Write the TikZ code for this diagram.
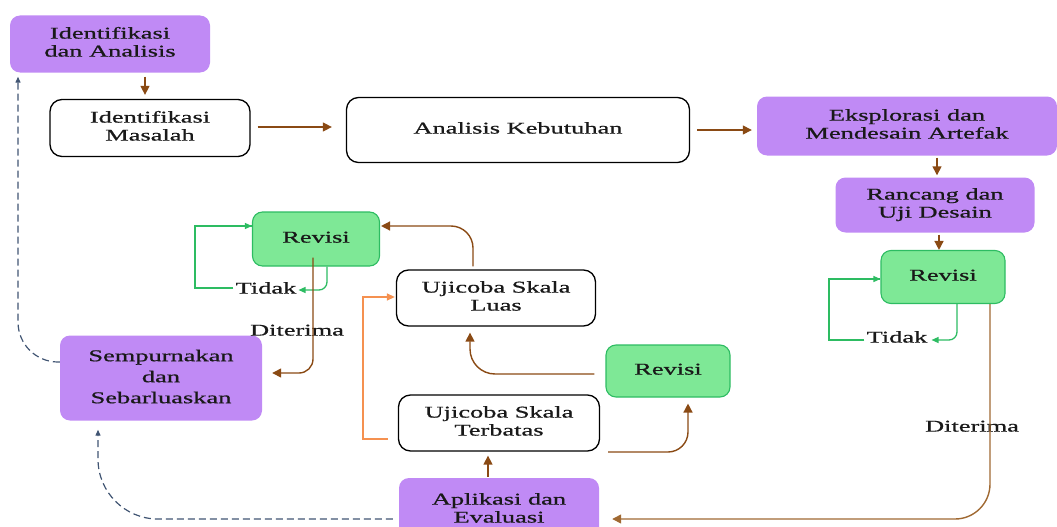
\documentclass[tikz,border=0pt]{standalone}
\usepackage{fontspec}
\setmainfont{Liberation Serif}
\newfontfamily\txf{Liberation Serif}[FakeBold=0.6]
\usetikzlibrary{arrows.meta,calc}
\definecolor{purp}{RGB}{192,138,245}
\definecolor{grn}{RGB}{126,232,150}
\definecolor{grnd}{RGB}{45,188,98}
\definecolor{brn}{RGB}{138,74,20}
\definecolor{brnl}{RGB}{160,105,50}
\definecolor{org}{RGB}{245,145,80}
\definecolor{navy}{RGB}{65,85,115}
\definecolor{txt}{RGB}{25,25,25}
\newcommand\tx[2][18]{\scalebox{1.6}[1]{\txf\fontsize{16.5}{#1}\selectfont\begin{tabular}{@{}c@{}}#2\end{tabular}}}
\begin{document}
\begin{tikzpicture}[x=1pt,y=-1pt,
  every node/.style={inner sep=0pt, text=txt},
  pbox/.style={fill=purp, rounded corners=10pt},
  wbox/.style={draw=black, line width=1.3pt, fill=white, rounded corners=12pt},
  gbox/.style={draw=grnd, line width=1.1pt, fill=grn, rounded corners=10pt},
  barr/.style={draw=brn, line width=1.4pt, -{Triangle[length=9pt,width=9pt]}},
  garr/.style={draw=grnd, line width=1.3pt, -{Triangle[length=7pt,width=6pt]}},
  gline/.style={draw=grnd, line width=1.3pt},
  oarr/.style={draw=org, line width=1.3pt, -{Triangle[length=8pt,width=7pt]}},
  narr/.style={draw=navy, line width=1.2pt, dash pattern=on 7pt off 4pt, -{Triangle[length=6pt,width=5pt]}},
  lbl/.style={fill=none}]
\useasboundingbox (0,0) rectangle (1057,527);
\clip (0,0) rectangle (1057,527);

\node[pbox, minimum width=200, minimum height=57] (n1) at (110,44) {\tx{Identifikasi\\dan Analisis}};
\node[wbox, minimum width=200, minimum height=57] (n2) at (150,128) {\tx{Identifikasi\\Masalah}};
\node[wbox, minimum width=343, minimum height=65] (n3) at (518,130) {\tx{Analisis Kebutuhan}};
\node[pbox, minimum width=300, minimum height=59] (n4) at (907,126) {\tx{Eksplorasi dan\\Mendesain Artefak}};
\node[pbox, minimum width=199, minimum height=55] (n5) at (935,205) {\tx{Rancang dan\\Uji Desain}};
\node[gbox, minimum width=124, minimum height=53] (n6) at (943,277) {\tx{Revisi}};
\node[gbox, minimum width=127, minimum height=54] (n7) at (316,239) {\tx{Revisi}};
\node[wbox, minimum width=199, minimum height=56] (n8) at (496,298) {\tx{Ujicoba Skala\\Luas}};
\node[gbox, minimum width=124, minimum height=52] (n9) at (668,371) {\tx{Revisi}};
\node[wbox, minimum width=201, minimum height=56] (n10) at (499,423) {\tx{Ujicoba Skala\\Terbatas}};
\node[pbox, minimum width=202, minimum height=85] (n11) at (161,378) {\tx[21]{Sempurnakan\\dan\\Sebarluaskan}};
\node[pbox, minimum width=200, minimum height=64] (n12) at (499,510) {\tx{Aplikasi dan\\Evaluasi}};

\node[lbl] (t1) at (266,290) {\tx{Tidak}};
\node[lbl] (t2) at (897,339) {\tx{Tidak}};
\node[lbl] (d1) at (297,332) {\tx{Diterima}};
\node[lbl] (d2) at (972,428) {\tx{Diterima}};

% main flow
\draw[barr] ($(n1.south)+(35,4)$) -- ($(n2.north)+(-5,-4)$);
\draw[barr] ($(n2.east)+(7,-1)$) -- ($(n3.west)+(-14,-3)$);
\draw[barr] ($(n3.east)+(7,0)$) -- ($(n4.west)+(-5,4)$);
\draw[barr] ($(n4.south)+(30,2)$) -- ($(n5.north)+(2,-2)$);
\draw[barr] ($(n5.south)+(4,2)$) -- ($(n6.north)+(-4,0)$);

% right revisi loop
\draw[garr, rounded corners=8pt] ($(n6.south)+(14,0)$) -- (957,340) -- ($(t2.east)+(4,1)$);
\draw[gline] ($(t2.west)+(-2,1)$) -- (829,340) -- (829,279) -- ($(n6.west)+(0,2)$);
\draw[garr] (870,279) -- ($(n6.west)+(0,2)$);

% right diterima
\draw[barr, draw=brnl, rounded corners=35pt] ($(n6.south)+(47,0)$) -- (990,519) -- ($(n12.east)+(13,9)$);

% lower flow
\draw[barr] ($(n12.north)+(-11,-1)$) -- ($(n10.south)+(-11,4)$);
\draw[barr, rounded corners=20pt] ($(n10.east)+(8,29)$) -- (688,452) -- ($(n9.south)+(20,6)$);
\draw[barr, rounded corners=25pt] ($(n9.west)+(-11,3)$) -- (470,374) -- ($(n8.south)+(-26,6)$);
\draw[oarr] ($(n10.west)+(-10,16)$) -- (363,439) -- (363,297) -- ($(n8.west)+(-1,-1)$);
\draw[barr, rounded corners=22pt] ($(n8.north)+(-23,-3)$) -- (473,226) -- ($(n7.east)+(1,-13)$);

% left revisi loop
\draw[garr, rounded corners=8pt] ($(n7.south)+(11,0)$) -- (327,290) -- ($(t1.east)+(2,0)$);
\draw[gline] ($(t1.west)+(-2,-2)$) -- (195,288) -- (195,226) -- ($(n7.west)+(0,-13)$);
\draw[garr] (240,226) -- ($(n7.west)+(0,-13)$);

% left diterima
\draw[barr, rounded corners=14pt] ($(n7.south)+(-3,-9)$) -- (313,373) -- ($(n11.east)+(10,-5)$);

% dashed returns
\draw[narr, rounded corners=40pt] ($(n11.west)+(0,-16)$) -- (18,362) -- ($(n1.south)+(-92,4)$);
\draw[narr, rounded corners=60pt] ($(n12.west)+(-6,9)$) -- (98,519) -- ($(n11.south)+(-63,9)$);
\end{tikzpicture}
\end{document}
